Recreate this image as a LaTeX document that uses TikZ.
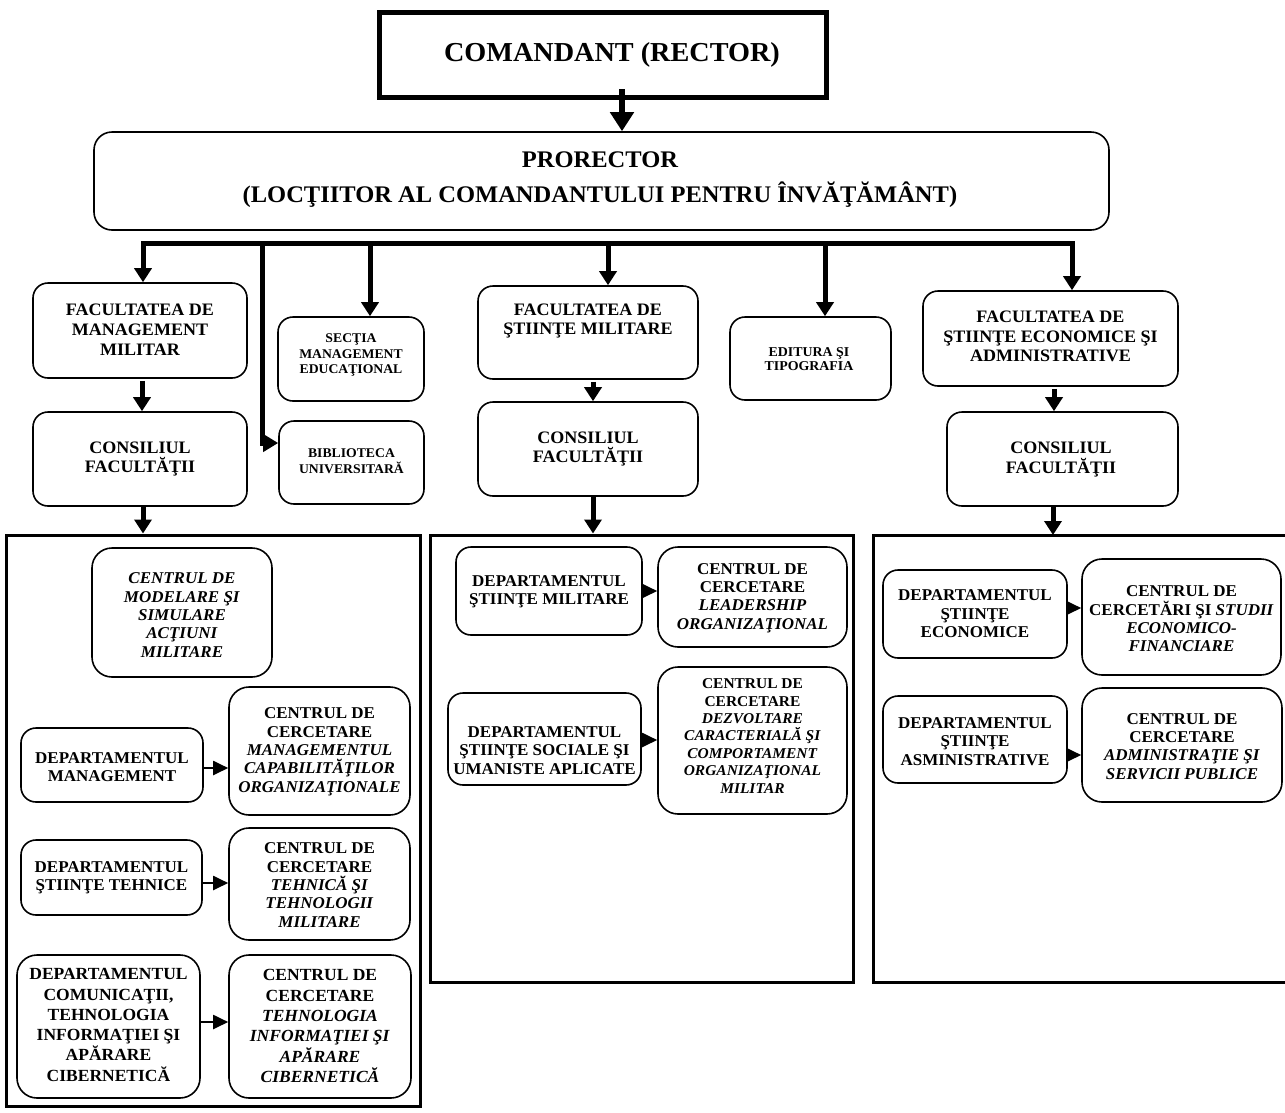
\documentclass[tikz,border=0pt]{standalone}
\usepackage{fontspec}
\setmainfont{Liberation Serif}[FakeStretch=1.03]
\usetikzlibrary{arrows.meta,calc}
\tikzset{
 rbox/.style={draw,line width=1.6pt,rounded corners=15pt,inner sep=0pt},
 rboxr/.style={rbox,rounded corners=20pt},
 lbl/.style={align=center,inner sep=0pt},
 tC/.style={lbl,font=\fontsize{27.4}{30}\selectfont\bfseries},
 tP/.style={lbl,font=\fontsize{23.8}{35}\selectfont\bfseries},
 tA/.style={lbl,font=\fontsize{17.5}{19.8}\selectfont\bfseries},
 tS/.style={lbl,font=\fontsize{13.3}{15.8}\selectfont\bfseries},
 tE/.style={lbl,font=\fontsize{13.5}{13.5}\selectfont\bfseries},
 tD/.style={lbl,font=\fontsize{16.5}{18.4}\selectfont\bfseries},
 tB/.style={lbl,font=\fontsize{17}{20.3}\selectfont\bfseries},
 tZ/.style={lbl,font=\fontsize{15}{17.4}\selectfont\bfseries},
 vtip/.style={line width=5pt,-{Triangle[length=14pt,width=17pt]}},
 htip/.style={line width=2pt,-{Triangle[length=15pt,width=14pt]}},
 cont/.style={draw,line width=3pt,inner sep=0pt},
}
\newcommand\bx[9]{%
 \node[rbox,minimum width={(#4-#2)*1pt},minimum height={(#5-#3)*1pt}] (#1) at ({(#2+#4)/2},{(#3+#5)/2}) {};
 \node[#6] (#1-t) at (#7,#8) {#9};}
\newcommand\bxr[9]{%
 \node[rboxr,minimum width={(#4-#2)*1pt},minimum height={(#5-#3)*1pt}] (#1) at ({(#2+#4)/2},{(#3+#5)/2}) {};
 \node[#6] (#1-t) at (#7,#8) {#9};}
\begin{document}
\begin{tikzpicture}[x=1pt,y=-1pt]
\useasboundingbox (0,0) rectangle (1285,1112);
% containers
\node[cont,minimum width=414pt,minimum height=571pt] (cL) at (213.5,820.5) {};
\node[cont,minimum width=423pt,minimum height=447pt] (cM) at (641.5,758.5) {};
\draw[line width=3pt] (1290,535) -- (873,535) -- (873,982) -- (1290,982);
\coordinate (cRtop) at (1053,535);
% top
\node[draw,line width=5pt,minimum width=447pt,minimum height=85pt,inner sep=0pt] (cmd) at (602.5,55) {};
\node[tC] (cmd-t) at (612,55) {COMANDANT (RECTOR)};
\node[rbox,rounded corners=18pt,minimum width=1015pt,minimum height=98pt] (pro) at (601.5,181) {};
\node[tP] (pro-t) at (600,180) {PRORECTOR\\(LOCŢIITOR AL COMANDANTULUI PENTRU ÎNVĂŢĂMÂNT)};
% second row
\bx{fmm}{33}{283}{247}{378}{tA}{140}{329.5}{FACULTATEA DE\\MANAGEMENT\\MILITAR}
\bx{sec}{278}{317}{424}{401}{tS}{351}{355}{SECŢIA\\MANAGEMENT\\EDUCAŢIONAL}
\bx{bib}{279}{421}{424}{504}{tS}{351.5}{461}{BIBLIOTECA\\UNIVERSITARĂ}
\bx{cmm}{33}{412}{247}{506}{tA}{140}{459}{CONSILIUL\\FACULTĂŢII}
\bx{fsm}{478}{286}{698}{379}{tA}{588}{321}{FACULTATEA DE\\ŞTIINŢE MILITARE}
\bx{csm}{478}{402}{698}{496}{tA}{588}{449}{CONSILIUL\\FACULTĂŢII}
\bx{edi}{730}{317}{891}{400}{tE}{809}{359}{EDITURA ŞI\\TIPOGRAFIA}
\bx{fsea}{923}{291}{1178}{386}{tA}{1050.5}{336.5}{FACULTATEA DE\\ŞTIINŢE ECONOMICE ŞI\\ADMINISTRATIVE}
\bx{csea}{947}{412}{1178}{506}{tA}{1061}{459.7}{CONSILIUL\\FACULTĂŢII}
% left container
\bxr{cmod}{92}{548}{272}{677}{tD}{182}{615}{\textit{CENTRUL DE}\\\textit{MODELARE ŞI}\\\textit{SIMULARE}\\\textit{ACŢIUNI}\\\textit{MILITARE}}
\bx{dm}{21}{728}{203}{802}{tD}{112}{767}{DEPARTAMENTUL\\MANAGEMENT}
\bxr{ccm}{229}{687}{410}{815}{tD}{319.5}{751.7}{CENTRUL DE\\CERCETARE\\\textit{MANAGEMENTUL}\\\textit{CAPABILITĂŢILOR}\\\textit{ORGANIZAŢIONALE}}
\bx{dt}{21}{840}{202}{915}{tD}{111.5}{878}{DEPARTAMENTUL\\ŞTIINŢE TEHNICE}
\bxr{cct}{229}{828}{410}{940}{tD}{319.5}{885}{CENTRUL DE\\CERCETARE\\\textit{TEHNICĂ ŞI}\\\textit{TEHNOLOGII}\\\textit{MILITARE}}
\bxr{dc}{17}{955}{200}{1098}{tB}{108.5}{1025}{DEPARTAMENTUL\\COMUNICAŢII,\\TEHNOLOGIA\\INFORMAŢIEI ŞI\\APĂRARE\\CIBERNETICĂ}
\bxr{cti}{229}{955}{411}{1098}{tB}{320}{1026}{CENTRUL DE\\CERCETARE\\\textit{TEHNOLOGIA}\\\textit{INFORMAŢIEI ŞI}\\\textit{APĂRARE}\\\textit{CIBERNETICĂ}}
% middle container
\bx{dsm}{456}{547}{642}{635}{tD}{549}{592}{DEPARTAMENTUL\\ŞTIINŢE MILITARE}
\bxr{ccl}{658}{547}{847}{647}{tD}{752.5}{598}{CENTRUL DE\\CERCETARE\\\textit{LEADERSHIP}\\\textit{ORGANIZAŢIONAL}}
\bx{dss}{448}{693}{641}{785}{tD}{544.5}{750.3}{DEPARTAMENTUL\\ŞTIINŢE SOCIALE ŞI\\UMANISTE APLICATE}
\bxr{ccd}{658}{667}{847}{814}{tZ}{752.5}{736}{CENTRUL DE\\CERCETARE\\\textit{DEZVOLTARE}\\\textit{CARACTERIALĂ ŞI}\\\textit{COMPORTAMENT}\\\textit{ORGANIZAŢIONAL}\\\textit{MILITAR}}
% right container
\bx{de}{883}{570}{1067}{658}{tD}{975}{614}{DEPARTAMENTUL\\ŞTIINŢE\\ECONOMICE}
\bxr{cce}{1082}{559}{1281}{675}{tD}{1181.5}{619}{CENTRUL DE\\CERCETĂRI ŞI \textit{STUDII}\\\textit{ECONOMICO-}\\\textit{FINANCIARE}}
\bx{da}{883}{696}{1067}{783}{tD}{975}{741.3}{DEPARTAMENTUL\\ŞTIINŢE\\ASMINISTRATIVE}
\bxr{cca}{1082}{688}{1282}{802}{tD}{1182}{746.3}{CENTRUL DE\\CERCETARE\\\textit{ADMINISTRAŢIE ŞI}\\\textit{SERVICII PUBLICE}}
% top arrow
\coordinate (c0) at (622,89);
\draw[line width=5.5pt,-{Triangle[length=19pt,width=23pt]}] (c0) -- (c0 |- pro.north);
% bus
\coordinate (bL) at (143,243);
\coordinate (bR) at (1072,243);
\coordinate (b2) at (262,243);
\coordinate (b3) at (370,243);
\coordinate (b4) at (608,243);
\coordinate (b5) at (825,243);
\draw[line width=5pt,{Triangle[length=14pt,width=17pt]}-{Triangle[length=14pt,width=17pt]}] (bL |- fmm.north) -- (bL) -- (bR) -- (bR |- fsea.north);
\draw[vtip] (b3) -- (b3 |- sec.north);
\draw[vtip] (b4) -- (b4 |- fsm.north);
\draw[vtip] (b5) -- (b5 |- edi.north);
\draw[line width=5pt,-{Triangle[length=15pt,width=17pt]}] (b2) |- ([yshift=19.5pt]bib.west);
% faculty -> council -> container
\coordinate (p1) at ([xshift=2pt,yshift=-2pt]fmm.south);
\draw[vtip] (p1) -- (p1 |- cmm.north);
\coordinate (p2) at ([xshift=3pt]cmm.south);
\draw[vtip] (p2) -- (p2 |- cL.north);
\coordinate (p3) at ([xshift=5pt,yshift=-2pt]fsm.south);
\draw[vtip] (p3) -- (p3 |- csm.north);
\coordinate (p4) at ([xshift=5pt]csm.south);
\draw[vtip] (p4) -- (p4 |- cM.north);
\coordinate (p5) at ([xshift=3.5pt,yshift=-2pt]fsea.south);
\draw[vtip] (p5) -- (p5 |- csea.north);
\coordinate (p6) at ([xshift=-9.5pt]csea.south);
\draw[vtip] (p6) -- (cRtop);
% horizontal arrows
\coordinate (h1) at ([yshift=-3pt]dm.east);
\draw[htip] (h1) -- (h1 -| ccm.west);
\coordinate (h2) at ([yshift=-5.5pt]dt.east);
\draw[htip] (h2) -- (h2 -| cct.west);
\coordinate (h3) at ([yshift=4.5pt]dc.east);
\draw[htip] (h3) -- (h3 -| cti.west);
\coordinate (h4) at (dsm.east);
\draw[htip] (h4) -- (h4 -| ccl.west);
\coordinate (h5) at ([yshift=-1pt]dss.east);
\draw[htip] (h5) -- (h5 -| ccd.west);
\coordinate (h6) at ([yshift=6pt]de.east);
\draw[htip] (h6) -- (h6 -| cce.west);
\coordinate (h7) at ([yshift=-15.5pt]da.east);
\draw[htip] (h7) -- (h7 -| cca.west);
\end{tikzpicture}
\end{document}
